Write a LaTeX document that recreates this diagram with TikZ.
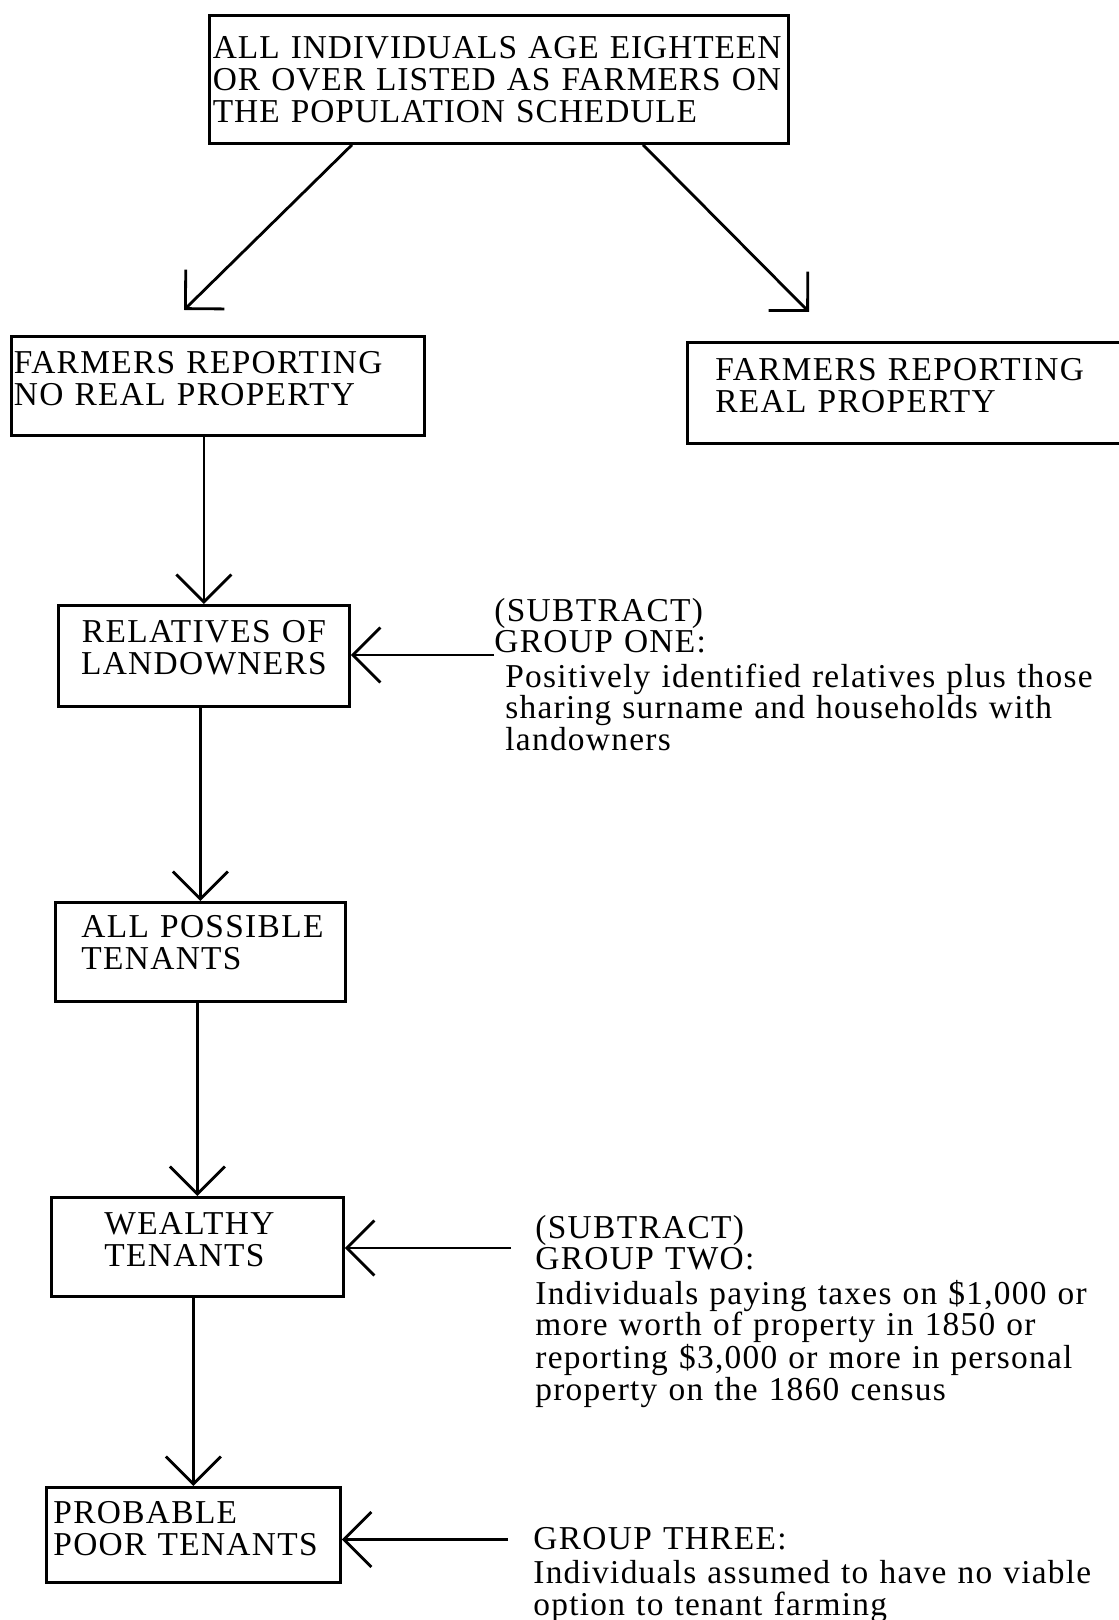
\documentclass[tikz,border=0pt]{standalone}
\usepackage{fontspec}
\setmainfont{Liberation Serif}
\newfontfamily\capfont[LetterSpace=4]{Liberation Serif}
\newfontfamily\topfont[LetterSpace=2.8]{Liberation Serif}
\newfontfamily\txtfont[LetterSpace=3.8]{Liberation Serif}
\usetikzlibrary{arrows.meta}
\begin{document}
\begin{tikzpicture}[line width=1.6pt,
  box/.style={draw, anchor=north west, align=left, inner sep=0pt, font=\capfont\fontsize{19}{18.1}\selectfont},
  lpad/.style={execute at begin node={\leftskip=#1}},
  note/.style={anchor=base west, align=left, inner sep=0pt, text width=12.5cm, font=\txtfont\fontsize{19}{17.8}\selectfont},
  arr/.style={-{Straight Barb[length=0.55cm,width=1.1cm]}}]
\useasboundingbox (0,0) rectangle (22.38,-32.4);
\node[box, text width=11.58cm, text height=0.86cm, text depth=1.7cm, lpad=0.07cm, font=\topfont\fontsize{19}{18.1}\selectfont] (all) at (4.16,-0.28) {ALL INDIVIDUALS AGE EIGHTEEN\\OR OVER LISTED AS FARMERS ON\\THE POPULATION SCHEDULE};
\node[box, text width=8.26cm, text height=0.74cm, text depth=1.24cm, lpad=0.05cm] (noprop) at (0.2,-6.7) {FARMERS REPORTING\\NO REAL PROPERTY};
\node[box, text width=9cm, text height=0.76cm, text depth=1.26cm, lpad=0.56cm] (realprop) at (13.72,-6.82) {FARMERS REPORTING\\REAL PROPERTY};
\node[box, text width=5.82cm, text height=0.74cm, text depth=1.28cm, align=center] (rel) at (1.14,-12.08) {RELATIVES OF\\LANDOWNERS};
\node[box, text width=5.8cm, text height=0.7cm, text depth=1.28cm, lpad=0.52cm] (poss) at (1.08,-18.02) {ALL POSSIBLE\\TENANTS};
\node[box, text width=5.84cm, text height=0.74cm, text depth=1.24cm, lpad=1.06cm] (wealthy) at (1.0,-23.92) {WEALTHY\\TENANTS};
\node[box, text width=5.88cm, text height=0.72cm, text depth=1.18cm, lpad=0.14cm] (prob) at (0.9,-29.72) {PROBABLE\\POOR TENANTS};
\node[note] (g1) at (9.86,-12.42) {{\capfont (SUBTRACT)}\\{\capfont GROUP ONE:}\\[0.08cm]\hspace*{0.22cm}Positively identified relatives plus those\\\hspace*{0.22cm}sharing surname and households with\\\hspace*{0.22cm}landowners};
\node[note] (g2) at (10.68,-24.76) {{\capfont (SUBTRACT)}\\{\capfont GROUP TWO:}\\[0.08cm]Individuals paying taxes on \$1,000 or\\more worth of property in 1850 or\\reporting \$3,000 or more in personal\\property on the 1860 census};
\node[note] (g3) at (10.64,-30.99) {{\capfont GROUP THREE:}\\[0.06cm]Individuals assumed to have no viable\\option to tenant farming};
\coordinate (ltip) at (3.68,-6.2); \coordinate (rtip) at (16.18,-6.24);
\draw[arr] ([xshift=2.88cm]all.south west) -- (ltip);
\draw[arr] ([xshift=8.7cm]all.south west) -- (rtip);
\draw[arr] (rel.north |- noprop.south) -- (rel.north);
\draw[arr] (poss.north |- rel.south) -- (poss.north);
\draw[arr] (wealthy.north |- poss.south) -- (wealthy.north);
\draw[arr] (prob.north |- wealthy.south) -- (prob.north);
\coordinate (in1) at (9.88,-13.1); \draw[arr] (in1) -- (in1 -| rel.east);
\coordinate (in2) at (10.22,-24.96); \draw[arr] (in2) -- (in2 -| wealthy.east);
\coordinate (in3) at (10.16,-30.79); \draw[arr] (in3) -- (in3 -| prob.east);
\end{tikzpicture}
\end{document}
